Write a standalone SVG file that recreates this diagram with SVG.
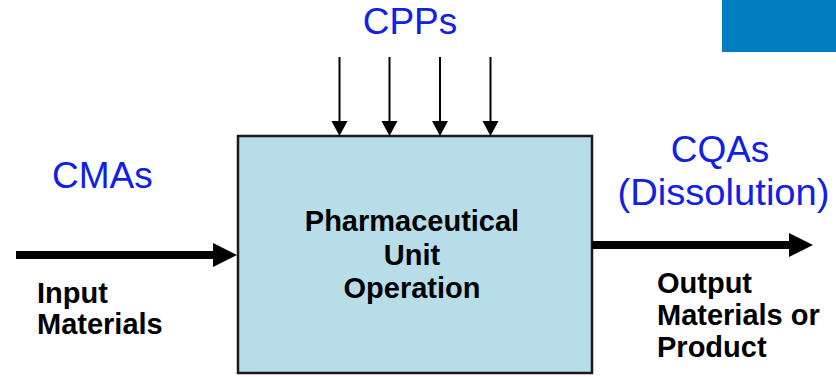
<svg xmlns="http://www.w3.org/2000/svg" width="836" height="377" viewBox="0 0 836 377">
<style>
.lbl{font-family:"Liberation Sans",Arial,sans-serif;font-size:37px;fill:#1020E8}
.bold{font-family:"Liberation Sans",Arial,sans-serif;font-size:29px;font-weight:bold;fill:#000}
.thin{stroke:#000;stroke-width:2;fill:none}
.thick{stroke:#000;stroke-width:8;fill:none}
</style>
<rect x="722" y="0" width="114" height="52" fill="#007EC1"/>
<g id="unit">
<rect x="238" y="136" width="354" height="237" fill="#B7DDE8" stroke="#1a1a1a" stroke-width="2.5"/>
<text class="bold" text-anchor="middle"><tspan x="412" y="231">Pharmaceutical</tspan><tspan x="412" y="265">Unit</tspan><tspan x="412" y="298">Operation</tspan></text>
</g>
<g id="cpps"><text class="lbl" x="410" y="34" text-anchor="middle">CPPs</text></g>
<g id="cmas"><text class="lbl" x="52" y="188">CMAs</text></g>
<g id="cqas"><text class="lbl" text-anchor="middle"><tspan x="720" y="162">CQAs</tspan><tspan x="723.5" y="205" textLength="212" lengthAdjust="spacingAndGlyphs">(Dissolution)</tspan></text></g>
<g id="input"><text class="bold"><tspan x="37" y="303">Input</tspan><tspan x="37" y="334">Materials</tspan></text></g>
<g id="output"><text class="bold"><tspan x="657" y="293">Output</tspan><tspan x="657" y="325">Materials or</tspan><tspan x="657" y="357">Product</tspan></text></g>
<g id="connectors">
<line class="thin" x1="339.5" y1="57" x2="339.5" y2="122"/>
<polygon points="331.5,121 347.5,121 339.5,136"/>
<line class="thin" x1="389.5" y1="57" x2="389.5" y2="122"/>
<polygon points="381.5,121 397.5,121 389.5,136"/>
<line class="thin" x1="440" y1="57" x2="440" y2="122"/>
<polygon points="432,121 448,121 440,136"/>
<line class="thin" x1="490.5" y1="57" x2="490.5" y2="122"/>
<polygon points="482.5,121 498.5,121 490.5,136"/>
<line class="thick" x1="16" y1="255" x2="215" y2="255"/>
<polygon points="213,243 237,255 213,267"/>
<line class="thick" x1="592" y1="245" x2="791" y2="245"/>
<polygon points="789,233 813,245 789,257"/>
</g>
</svg>
